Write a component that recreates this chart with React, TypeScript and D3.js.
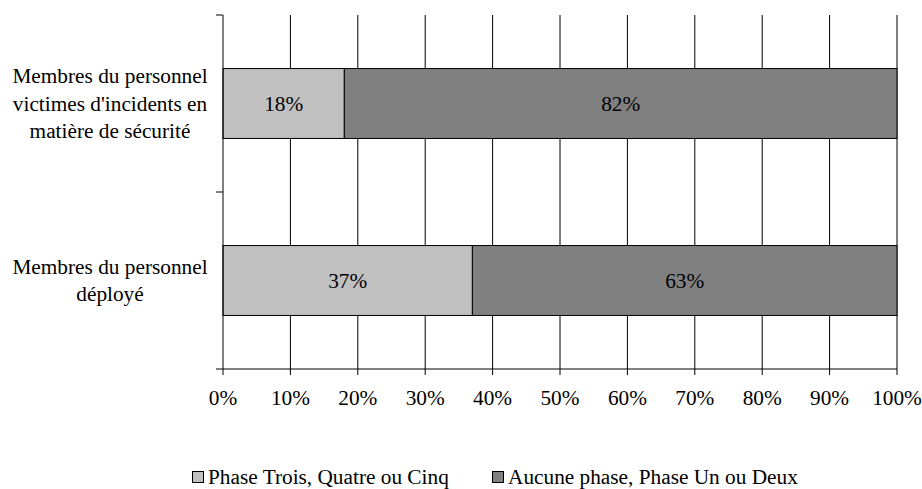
import React from "react";
import * as d3 from "d3";

const categories: string[][] = [
  ["Membres du personnel", "victimes d'incidents en", "matière de sécurité"],
  ["Membres du personnel", "déployé"],
];
const seriesNames = ["Phase Trois, Quatre ou Cinq", "Aucune phase, Phase Un ou Deux"];
const phaseHigh = [18, 37];
const phaseLow = [82, 63];
const seriesColors = ["#C0C0C0", "#808080"];
const xTicks = [0, 10, 20, 30, 40, 50, 60, 70, 80, 90, 100];

const W = 922;
const H = 489;
const left = 223;
const right = 897;
const top = 15;
const bottom = 369;
const font = "Liberation Serif, Times New Roman, DejaVu Serif, serif";
const fs = 21.3;

export default function App() {
  const x = d3.scaleLinear().domain([0, 100]).range([left, right]);
  const y = d3
    .scaleBand<number>()
    .domain(categories.map((_, i) => i))
    .range([top, bottom])
    .paddingInner(0.605)
    .paddingOuter(0.3025);
  const bandStep = (bottom - top) / categories.length;
  const stack = categories.map((_, i) => {
    let acc = 0;
    return [phaseHigh[i], phaseLow[i]].map((v, s) => {
      const seg = { x0: acc, x1: acc + v, v, s };
      acc += v;
      return seg;
    });
  });
  const txt = { fontFamily: font, fill: "#000", fontSize: fs } as React.CSSProperties;

  return (
    <svg width={W} height={H} style={{ position: "absolute", left: 0, top: 0, background: "#fff" }}>
      {/* vertical gridlines */}
      {xTicks.slice(1).map((t) => (
        <line key={t} x1={x(t)} x2={x(t)} y1={top} y2={bottom} stroke="#000" strokeWidth={1} />
      ))}
      {/* stacked bars with value labels */}
      {stack.map((segs, i) =>
        segs.map((seg) => (
          <g key={`${i}-${seg.s}`}>
            <rect
              x={x(seg.x0)}
              y={y(i)!}
              width={x(seg.x1) - x(seg.x0)}
              height={y.bandwidth()}
              fill={seriesColors[seg.s]}
              stroke="#000"
              strokeWidth={1}
            />
            <text
              x={(x(seg.x0) + x(seg.x1)) / 2}
              y={y(i)! + y.bandwidth() / 2}
              textAnchor="middle"
              dominantBaseline="central"
              style={txt}
            >
              {seg.v}%
            </text>
          </g>
        ))
      )}
      {/* axes */}
      <line x1={left} x2={left} y1={top} y2={bottom} stroke="#000" />
      <line x1={left} x2={right} y1={bottom} y2={bottom} stroke="#000" />
      {[0, 1, 2].map((k) => (
        <line key={k} x1={left - 7} x2={left} y1={top + k * bandStep} y2={top + k * bandStep} stroke="#000" />
      ))}
      {xTicks.map((t) => (
        <g key={t}>
          <line x1={x(t)} x2={x(t)} y1={bottom} y2={bottom + 6} stroke="#000" />
          <text x={x(t)} y={398} textAnchor="middle" dominantBaseline="central" style={txt}>
            {t}%
          </text>
        </g>
      ))}
      {/* category labels */}
      {categories.map((lines, i) => {
        const cy = y(i)! + y.bandwidth() / 2;
        const lh = 27.5;
        return (
          <text key={i} textAnchor="middle" style={txt}>
            {lines.map((l, j) => (
              <tspan key={j} x={110} y={cy + (j - (lines.length - 1) / 2) * lh} dominantBaseline="central">
                {l}
              </tspan>
            ))}
          </text>
        );
      })}
      {/* legend */}
      {seriesNames.map((name, s) => {
        const lx = s === 0 ? 192 : 492;
        return (
          <g key={s}>
            <rect x={lx + 0.5} y={471.5} width={11} height={11} fill={seriesColors[s]} stroke="#000" strokeWidth={1} />
            <text x={lx + 16} y={477} dominantBaseline="central" style={txt}>
              {name}
            </text>
          </g>
        );
      })}
    </svg>
  );
}
